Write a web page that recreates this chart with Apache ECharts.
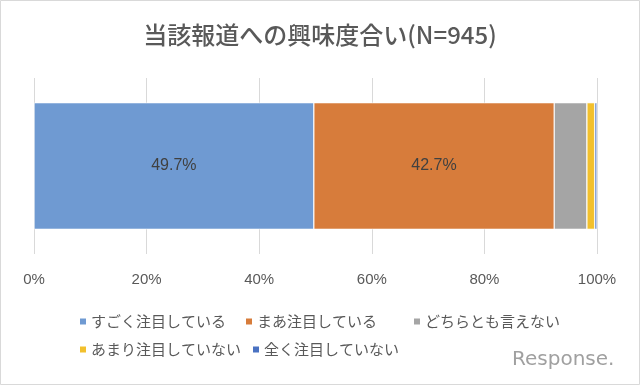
<!DOCTYPE html>
<html><head><meta charset="utf-8">
<script src="https://cdn.jsdelivr.net/npm/echarts@6/dist/echarts.min.js"></script>
<style>html,body{margin:0;padding:0;background:#fff}#c{width:640px;height:385px}</style>
</head><body><div id="c"></div>
<script>
var titleText = '当該報道への興味度合い(N=945)';
var categories = ['全体'];
var seriesNames = ['すごく注目している','まあ注目している','どちらとも言えない','あまり注目していない','全く注目していない'];
var seriesValues = [49.7, 42.7, 5.8, 1.4, 0.4];
var showLabel = [true, true, false, false, false];
var colors = ['#6f9ad2','#d77c3b','#a5a5a5','#f2c02d','#4a72c2'];
var tickLabels = ['0%','20%','40%','60%','80%','100%'];

var font = '"Noto Sans CJK JP", "Noto Sans", sans-serif';
var latin = '"Liberation Sans", Arial, sans-serif';
var series = seriesNames.map(function(n,i){
  return {
    name:n, type:'bar', stack:'all', barWidth:'72%',
    data:[seriesValues[i]],
    itemStyle:{color:colors[i], borderColor:'#ffffff', borderWidth:0.6},
    label:{show:showLabel[i], position:'inside', formatter:function(p){return p.value.toFixed(1)+'%';},
      color:'#404040', fontSize:16, fontFamily:latin}
  };
});
var legendPos = [[78,314],[244,314],[412,314],[78,342],[251,342]];
var legends = seriesNames.map(function(n,i){
  return {data:[n], left:legendPos[i][0], top:legendPos[i][1], padding:0, itemWidth:8, itemHeight:8, itemGap:0,
    icon:'rect', textStyle:{color:'#595959', fontSize:15, fontFamily:font, padding:[0,0,0,-1]}, selectedMode:false};
});
var chart = echarts.init(document.getElementById('c'));
chart.setOption({
  animation:false,
  backgroundColor:'#fff',
  title:{text:titleText, left:'center', top:18, textStyle:{color:'#595959', fontSize:24, fontWeight:500, fontFamily:font}},
  legend:legends,
  grid:{left:34, right:43, top:78, bottom:131, containLabel:false},
  xAxis:{type:'value', min:0, max:100, interval:20,
    axisLabel:{formatter:function(v){return tickLabels[v/20];}, color:'#595959', fontSize:15, margin:18, fontFamily:latin},
    axisLine:{show:false}, axisTick:{show:false},
    splitLine:{show:true, lineStyle:{color:'#d9d9d9', width:1}}},
  yAxis:{type:'category', data:categories, show:false},
  series:series,
  graphic:[
    {type:'rect', shape:{x:0.5,y:0.5,width:639,height:384}, style:{fill:'none', stroke:'#d9d9d9', lineWidth:1}, silent:true},
    {type:'text', left:512, top:350, style:{text:'Response.', fill:'#a0a0a0', fontSize:20, fontFamily:'"DejaVu Sans", sans-serif'}, silent:true}
  ]
});
</script></body></html>
